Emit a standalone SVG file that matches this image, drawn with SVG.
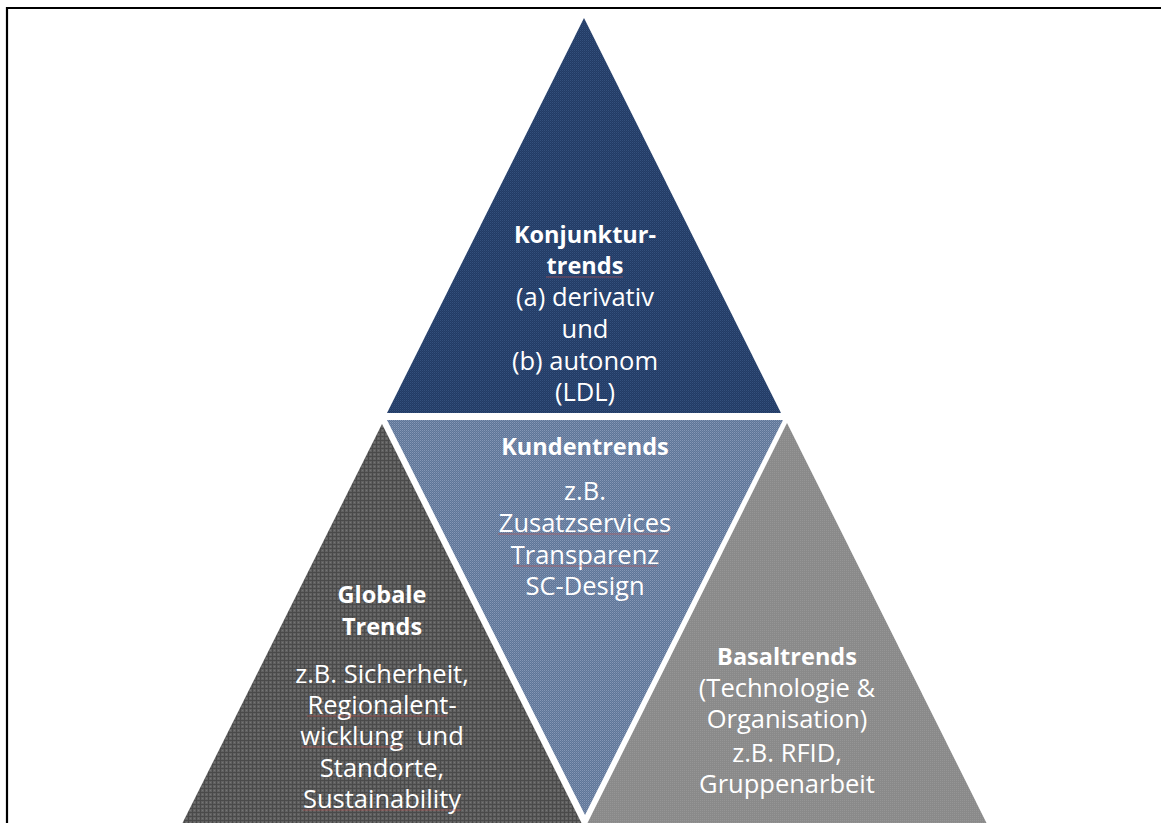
<svg xmlns="http://www.w3.org/2000/svg" width="1161" height="823" viewBox="0 0 1161 823">
<style>
.t{font-family:"Open Sans","Liberation Sans",sans-serif;fill:#ffffff;text-anchor:middle;font-size:25.5px}
.b{font-weight:bold;font-size:23.5px}
.sq{stroke:#c0504d;stroke-width:1;stroke-opacity:0.6;fill:none}
.border{stroke:#000;stroke-width:2.2;fill:none}
</style>
<defs>
<pattern id="pNavy" width="2" height="2" patternUnits="userSpaceOnUse"><rect width="2" height="2" fill="#223b65"/><rect width="1" height="1" fill="#34507c"/><rect x="1" y="1" width="1" height="1" fill="#2a446f"/></pattern>
<pattern id="pBlue" width="2" height="2" patternUnits="userSpaceOnUse"><rect width="2" height="2" fill="#5f7597"/><rect width="1" height="1" fill="#8497b6"/><rect x="1" y="1" width="1" height="1" fill="#7086a7"/></pattern>
<pattern id="pDark" width="4" height="4" patternUnits="userSpaceOnUse"><rect width="4" height="4" fill="#616161"/><rect width="1" height="4" fill="#4a4a4a"/><rect width="4" height="1" fill="#4a4a4a"/><rect x="2" y="2" width="1" height="1" fill="#757575"/></pattern>
<pattern id="pGray" width="2" height="2" patternUnits="userSpaceOnUse"><rect width="2" height="2" fill="#8a8a8a"/><rect width="1" height="1" fill="#959595"/></pattern>
</defs>
<rect width="1161" height="823" fill="#ffffff"/>
<path class="border" d="M7,823 V8 H1161"/>

<g id="konjunkturtrends">
<polygon points="584,18 387,413 781,413" fill="url(#pNavy)"/>
<text class="t b" x="585" y="243">Konjunktur-</text>
<text class="t b" x="585" y="274">trends</text>
<text class="t" x="585" y="306">(a) derivativ</text>
<text class="t" x="585" y="338">und</text>
<text class="t" x="585" y="370">(b) autonom</text>
<text class="t" x="585" y="401">(LDL)</text>
<line class="sq" x1="546" y1="277" x2="623" y2="277"/>
</g>

<g id="kundentrends">
<polygon points="387,420 783,420 585,815" fill="url(#pBlue)"/>
<text class="t b" x="585" y="455">Kundentrends</text>
<text class="t" x="585" y="500">z.B.</text>
<text class="t" x="585" y="532">Zusatzservices</text>
<text class="t" x="585" y="564">Transparenz</text>
<text class="t" x="585" y="595">SC-Design</text>
<line class="sq" x1="498" y1="534" x2="669" y2="534"/>
<line class="sq" x1="513" y1="566" x2="657" y2="566"/>
</g>

<g id="globale-trends">
<polygon points="382,424 179,830 585,830" fill="url(#pDark)"/>
<text class="t b" x="382" y="603">Globale</text>
<text class="t b" x="382" y="635">Trends</text>
<text class="t" x="382" y="683">z.B. Sicherheit,</text>
<text class="t" x="382" y="714">Regionalent-</text>
<text class="t" x="382" y="745" style="white-space:pre">wicklung  und</text>
<text class="t" x="382" y="777">Standorte,</text>
<text class="t" x="382" y="808">Sustainability</text>
<line class="sq" x1="307" y1="716" x2="447" y2="716"/>
<line class="sq" x1="302" y1="747" x2="403" y2="747"/>
<line class="sq" x1="303" y1="810" x2="461" y2="810"/>
</g>

<g id="basaltrends">
<polygon points="787,423 584,830 990,830" fill="url(#pGray)"/>
<text class="t b" x="787" y="665">Basaltrends</text>
<text class="t" x="787" y="697">(Technologie &amp;</text>
<text class="t" x="787" y="728">Organisation)</text>
<text class="t" x="787" y="762">z.B. RFID,</text>
<text class="t" x="787" y="793">Gruppenarbeit</text>
</g>

<g id="connectors"></g>
</svg>
